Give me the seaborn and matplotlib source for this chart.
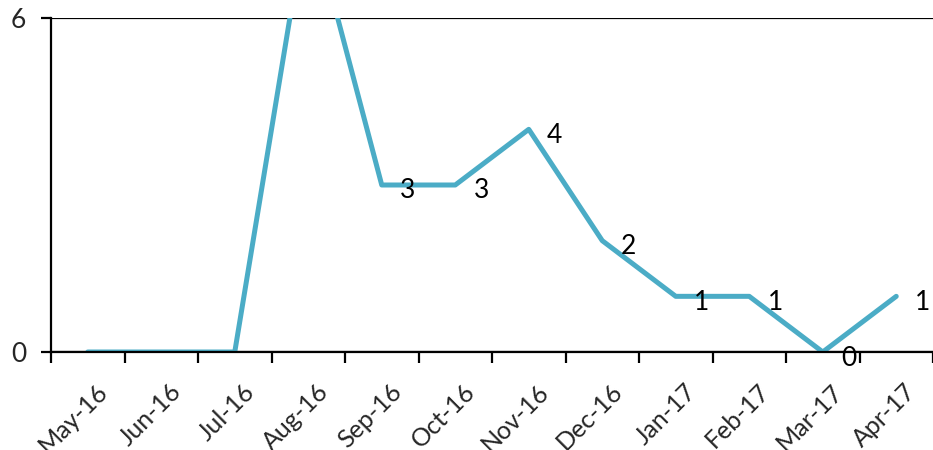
import matplotlib
matplotlib.use("Agg")
import matplotlib.pyplot as plt
import matplotlib.transforms as mtransforms
import seaborn as sns
import pandas as pd
import numpy as np

months = ["May-16", "Jun-16", "Jul-16", "Aug-16", "Sep-16", "Oct-16",
          "Nov-16", "Dec-16", "Jan-17", "Feb-17", "Mar-17", "Apr-17"]
counts = [0, 0, 0, 8, 3, 3, 4, 2, 1, 1, 0, 1]
labeled_months = ["Sep-16", "Oct-16", "Nov-16", "Dec-16", "Jan-17",
                  "Feb-17", "Mar-17", "Apr-17"]
y_ticks = [0, 6]

line_color = "#4BACC6"

sns.set_theme(style="white")
plt.rcParams["font.family"] = ["Lato", "DejaVu Sans"]

df = pd.DataFrame({"month": months, "count": counts})

fig = plt.figure(figsize=(9.33, 4.5), dpi=100)
ax = fig.add_axes([51 / 933, 98 / 450, 882 / 933, 334 / 450])

sns.lineplot(data=df, x="month", y="count", ax=ax, color=line_color,
             linewidth=3.6, sort=False)

ax.set_xlim(-0.5, len(months) - 0.5)
ax.set_ylim(0, 6)
ax.set_xlabel("")
ax.set_ylabel("")

# y axis: only 0 and 6, with a black gridline at the top
ax.set_yticks(y_ticks)
ax.yaxis.grid(True, color="black", linewidth=1.6)
ax.tick_params(axis="y", which="major", direction="out", length=7, width=1.6,
               color="black", left=True, pad=11, labelsize=19)

# x axis: labels at category centres, tick marks between categories
ax.set_xticks(np.arange(len(months)))
ax.set_xticklabels(months, rotation=45, ha="right", va="top",
                   rotation_mode="anchor", fontsize=18)
ax.set_xticks(np.arange(-0.5, len(months), 1.0), minor=True)
ax.tick_params(axis="x", which="major", length=0, pad=20)
ax.tick_params(axis="x", which="minor", direction="out", length=8, width=1.6,
               color="black", bottom=True)
ax.xaxis.grid(False)
shift = mtransforms.ScaledTranslation(8 / 100, 0, fig.dpi_scale_trans)
for lbl in ax.get_xticklabels():
    lbl.set_transform(lbl.get_transform() + shift)

for side in ["top", "right"]:
    ax.spines[side].set_visible(False)
for side in ["left", "bottom"]:
    ax.spines[side].set_color("black")
    ax.spines[side].set_linewidth(1.6)

# value labels to the right of each point
for m, v in zip(months, counts):
    if m in labeled_months:
        ax.annotate(str(v), xy=(months.index(m), v), xytext=(26, -6),
                    textcoords="offset pixels", ha="center", va="center",
                    fontsize=19, color="black")

fig.savefig("out.png", dpi=100)
